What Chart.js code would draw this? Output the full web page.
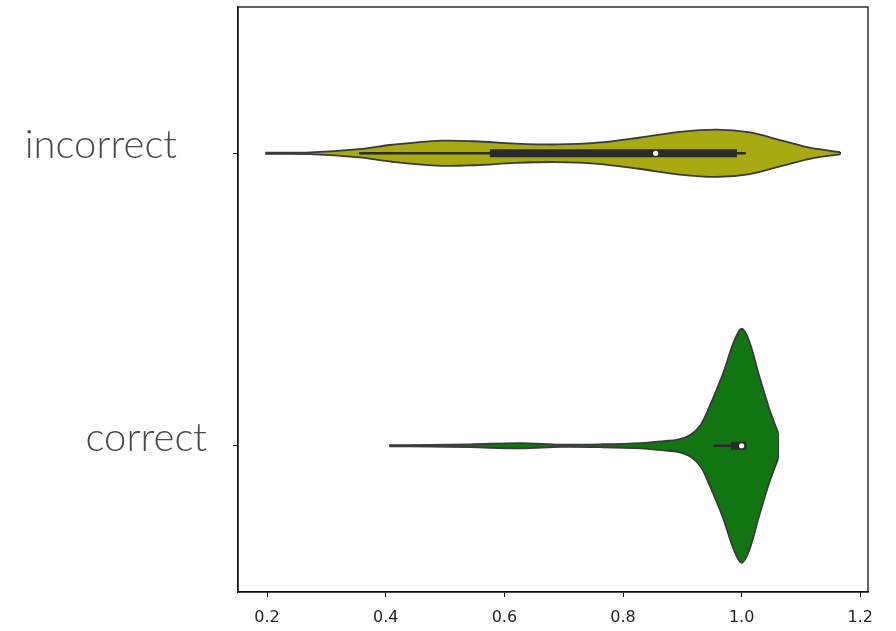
<!DOCTYPE html>
<html lang="en">
<head>
  <meta charset="UTF-8" />
  <title>Violin plot</title>
  <style>
    body { margin: 0; background: #fff; }
    #wrap { width: 896px; height: 631px; }
  </style>
</head>
<body>
  <div id="wrap"><canvas id="chart"></canvas></div>

  <script src="https://cdn.jsdelivr.net/npm/chart.js"></script>
  <script>
    // categories (top to bottom) and x tick labels
    const categories = ['incorrect', 'correct'];
    const xTicks = [0.2, 0.4, 0.6, 0.8, 1.0, 1.2];

    // violin outlines: value grid and half width (in category units)
    const incorrectX = [0.197, 0.273, 0.355, 0.411, 0.494, 0.55, 0.619, 0.688, 0.757, 0.827, 0.896, 0.958, 1.014, 1.068, 1.117, 1.166];
    const incorrectHalfWidth = [0.002, 0.003, 0.014, 0.029, 0.043, 0.041, 0.033, 0.030, 0.036, 0.053, 0.073, 0.081, 0.071, 0.043, 0.018, 0.004];

    const correctX = [0.406, 0.475, 0.543, 0.627, 0.695, 0.762, 0.83, 0.869, 0.892, 0.914, 0.931, 0.945, 0.968, 0.987, 1.0, 1.0125, 1.029, 1.046, 1.0615];
    const correctHalfWidth = [0.002, 0.003, 0.005, 0.009, 0.004, 0.005, 0.009, 0.016, 0.021, 0.038, 0.072, 0.130, 0.243, 0.356, 0.400, 0.359, 0.243, 0.130, 0.044];

    // inner box plots: [q1, q3], [low whisker, high whisker], median
    const incorrectBox = [0.5755, 0.992];
    const incorrectWhisker = [0.355, 1.007];
    const incorrectMedian = 0.855;
    const correctBox = [0.982, 1.008];
    const correctWhisker = [0.953, 1.008];
    const correctMedian = 1.0;

    const edgeColor = '#3a3a3a';
    const fillColors = ['#a9a912', '#117611'];

    function edge(xs, ws, pos, sign) {
      return xs.map((x, i) => ({ x: x, y: pos + sign * ws[i] }));
    }

    function violin(xs, ws, pos, color) {
      const base = { borderColor: edgeColor, borderWidth: 1.8, pointRadius: 0, tension: 0.35, order: 3 };
      const last = xs.length - 1;
      return [
        { ...base, data: edge(xs, ws, pos, -1), fill: false },
        { ...base, data: edge(xs, ws, pos, 1), fill: '-1', backgroundColor: color },
        { ...base, tension: 0, fill: false,
          data: [{ x: xs[last], y: pos - ws[last] }, { x: xs[last], y: pos + ws[last] }] }
      ];
    }

    function segment(range, pos, width) {
      return {
        data: [{ x: range[0], y: pos }, { x: range[1], y: pos }],
        borderColor: '#2b2b2b', borderWidth: width, borderCapStyle: 'butt',
        pointRadius: 0, fill: false, order: width > 4 ? 1 : 2
      };
    }

    // frame + category labels
    const framePlugin = {
      id: 'frame',
      afterDraw(chart) {
        const { ctx, chartArea: a, scales } = chart;
        ctx.save();
        ctx.strokeStyle = '#111';
        ctx.lineWidth = 1.3;
        ctx.strokeRect(a.left, a.top, a.right - a.left, a.bottom - a.top);

        const shift = [61, 31];
        ctx.font = '300 40px Lato';
        ctx.fillStyle = '#4a4a4a';
        ctx.textAlign = 'right';
        ctx.textBaseline = 'alphabetic';
        categories.forEach((c, i) => {
          ctx.fillText(c, a.left - shift[i], scales.y.getPixelForValue(i) + 5);
        });
        ctx.restore();
      }
    };

    new Chart(document.getElementById('chart'), {
      type: 'line',
      data: {
        datasets: [
          ...violin(incorrectX, incorrectHalfWidth, 0, fillColors[0]),
          ...violin(correctX, correctHalfWidth, 1, fillColors[1]),
          segment(incorrectWhisker, 0, 2.5),
          segment(correctWhisker, 1, 2.5),
          segment(incorrectBox, 0, 8),
          segment(correctBox, 1, 8),
          {
            data: [{ x: incorrectMedian, y: 0 }, { x: correctMedian, y: 1 }],
            showLine: false, pointRadius: 2.6, pointBorderWidth: 0,
            pointBackgroundColor: '#ffffff', borderColor: '#ffffff', order: 0
          }
        ]
      },
      options: {
        responsive: true,
        maintainAspectRatio: false,
        animation: false,
        layout: { padding: { top: 7, right: 28, left: 0, bottom: 0 } },
        plugins: {
          legend: { display: false },
          tooltip: { enabled: false }
        },
        scales: {
          x: {
            type: 'linear',
            min: 0.151,
            max: 1.213,
            afterBuildTicks: s => { s.ticks = xTicks.map(v => ({ value: v })); },
            afterFit: s => { s.height = 39; },
            grid: { drawOnChartArea: false, drawTicks: true, tickLength: 5, color: '#111' },
            border: { display: true, color: '#111', width: 1.3 },
            ticks: {
              callback: v => v.toFixed(1),
              font: { family: 'DejaVu Sans', size: 16 },
              color: '#262626',
              padding: 11,
              maxRotation: 0
            }
          },
          y: {
            type: 'linear',
            min: -0.5,
            max: 1.5,
            reverse: true,
            afterBuildTicks: s => { s.ticks = categories.map((c, i) => ({ value: i })); },
            afterFit: s => { s.width = 238; },
            grid: { drawOnChartArea: false, drawTicks: true, tickLength: 5, color: '#111' },
            border: { display: true, color: '#111', width: 1.3 },
            ticks: { display: false }
          }
        }
      },
      plugins: [framePlugin]
    });
  </script>
</body>
</html>
